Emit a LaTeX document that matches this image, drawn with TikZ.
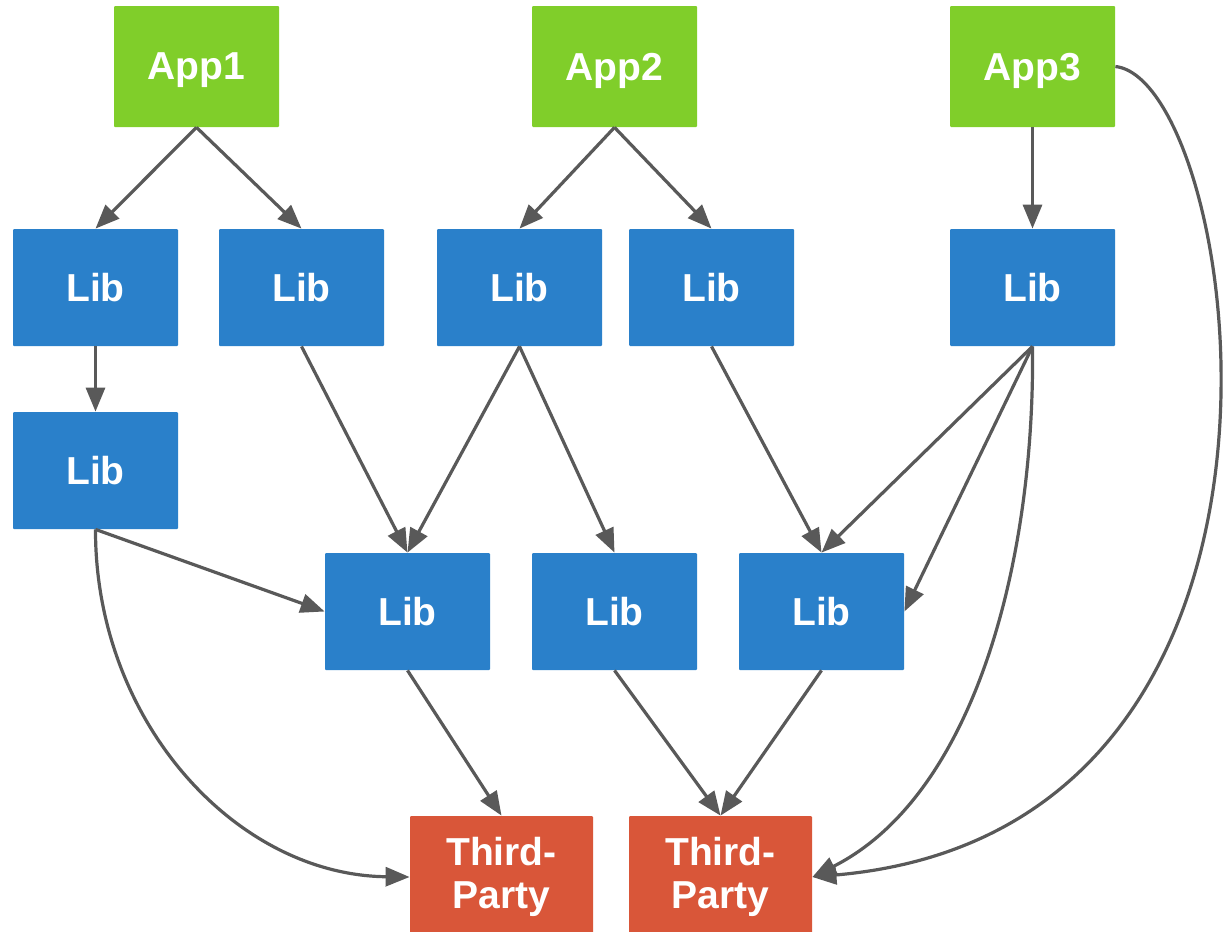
\documentclass[tikz,border=0pt]{standalone}
\usepackage{fontspec}
\setmainfont{Liberation Sans}
\usetikzlibrary{arrows.meta}
\definecolor{appgreen}{RGB}{128,206,42}
\definecolor{libblue}{RGB}{42,128,202}
\definecolor{tpred}{RGB}{217,86,57}
\definecolor{depgray}{RGB}{89,89,89}
\begin{document}
\begin{tikzpicture}[x=0.5pt, y=-0.5pt,
        box/.style={rectangle, rounded corners=0.5pt, text=white, inner sep=0pt, align=center,
            font=\bfseries\fontsize{19.5}{21.5}\selectfont, minimum width=82.5pt, minimum height=58.5pt},
        app/.style={box, fill=appgreen, minimum height=60.5pt, text depth=0pt},
        lib/.style={box, fill=libblue},
        tp/.style={box, fill=tpred, minimum width=91.5pt, minimum height=61pt},
        dep/.style={draw=depgray, line width=1.6pt, -{Triangle[length=12pt, width=9.5pt]}}]
        \useasboundingbox (0,0) rectangle (1232,932);

        \node[app] (app1) at (196.5,66.5) {App1};
        \node[app] (app2) at (614.5,66.5) {App2};
        \node[app] (app3) at (1032.5,66.5) {App3};

        \node[lib] (lib1) at (95.5,287.5) {Lib};
        \node[lib] (lib2) at (301.5,287.5) {Lib};
        \node[lib] (lib3) at (519.5,287.5) {Lib};
        \node[lib] (lib4) at (711.5,287.5) {Lib};
        \node[lib] (lib5) at (1032.5,287.5) {Lib};
        \node[lib] (lib6) at (95.5,470.5) {Lib};
        \node[lib] (lib7) at (407.5,611.5) {Lib};
        \node[lib] (lib8) at (614.5,611.5) {Lib};
        \node[lib] (lib9) at (821.5,611.5) {Lib};

        \node[tp] (tp1) at (501.5,877) {Third-\\Party};
        \node[tp] (tp2) at (720.5,877) {Third-\\Party};

        \draw[dep] (app1.south) -- (lib1.north);
        \draw[dep] (app1.south) -- (lib2.north);
        \draw[dep] (app2.south) -- (lib3.north);
        \draw[dep] (app2.south) -- (lib4.north);
        \draw[dep] (app3.south) -- (lib5.north);
        \draw[dep] (lib1.south) -- (lib6.north);
        \draw[dep] (lib2.south) -- (lib7.north);
        \draw[dep] (lib3.south) -- (lib7.north);
        \draw[dep] (lib3.south) -- (lib8.north);
        \draw[dep] (lib4.south) -- (lib9.north);
        \draw[dep] (lib5.south) -- (lib9.north);
        \draw[dep] (lib5.south) -- (lib9.east);
        \draw[dep] (lib6.south) -- (lib7.west);
        \draw[dep] (lib7.south) -- (tp1.north);
        \draw[dep] (lib8.south) -- (tp2.north);
        \draw[dep] (lib9.south) -- (tp2.north);

        \draw[dep] (lib6.south) .. controls (95,720) and (235,875) .. (tp1.west);
        \draw[dep] (lib5.south) .. controls (1035,560) and (975,795) .. (tp2.east);
        \draw[dep] (app3.east) .. controls (1240,80) and (1355,830) .. (tp2.east);
    \end{tikzpicture}
\end{document}
